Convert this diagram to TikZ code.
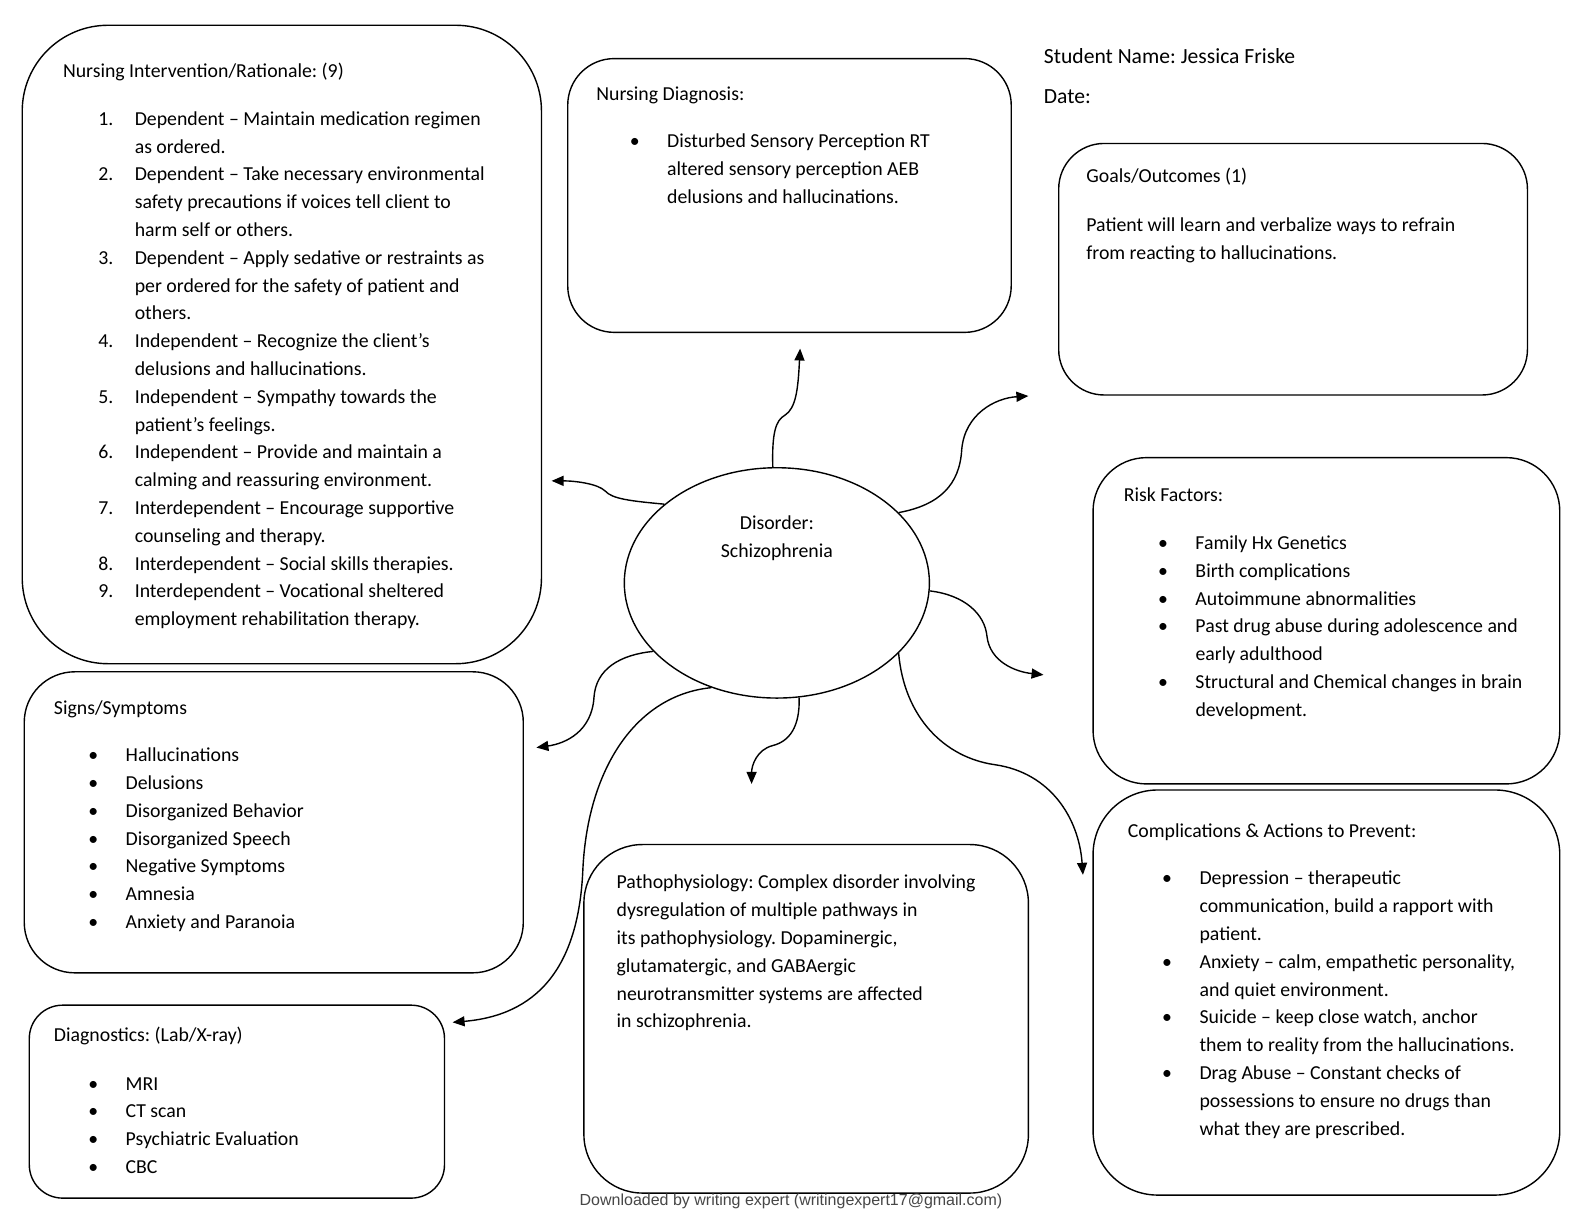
\documentclass[tikz,border=0pt]{standalone}
\usepackage{fontspec}
\setmainfont{Carlito}
\newfontfamily\footfont{Liberation Sans}
\usetikzlibrary{shapes.geometric,arrows.meta}
\newcommand{\myu}{0.5051pt}
\frenchspacing
\begin{document}
\frenchspacing
\begin{tikzpicture}[x=0.5051pt,y=-0.5051pt,
  rbox/.style={draw, line width=0.7pt, inner sep=0pt},
  txt/.style={inner sep=0pt, anchor=base west, font=\fontsize{9.9}{13.9}\selectfont\frenchspacing},
  conn/.style={line width=0.7pt, -{Triangle[length=6pt,width=5pt]}},
]
\useasboundingbox[fill=white] (0,0) rectangle (1568,1212);

% boxes
\node[rbox, minimum width=514*\myu, minimum height=632*\myu, rounded corners=85*\myu] (interv) at (279,341) {};
\node[rbox, minimum width=439*\myu, minimum height=271*\myu, rounded corners=46*\myu] (diagn) at (781.5,193.5) {};
\node[rbox, minimum width=464*\myu, minimum height=249*\myu, rounded corners=45*\myu] (goals) at (1280,266.5) {};
\node[rbox, minimum width=462*\myu, minimum height=323*\myu, rounded corners=53*\myu] (risk) at (1313,614.5) {};
\node[rbox, minimum width=462*\myu, minimum height=401*\myu, rounded corners=64*\myu] (compl) at (1313,982.5) {};
\node[rbox, minimum width=440*\myu, minimum height=345*\myu, rounded corners=58*\myu] (patho) at (798,1008.5) {};
\node[rbox, minimum width=494*\myu, minimum height=298*\myu, rounded corners=50*\myu] (signs) at (271,814) {};
\node[rbox, minimum width=411*\myu, minimum height=191*\myu, rounded corners=33*\myu] (diagx) at (234.5,1090.5) {};
\node[draw, line width=0.7pt, ellipse, inner sep=0pt, minimum width=302*\myu, minimum height=228*\myu] (dis) at (769,577) {};

% texts
\node[txt] (intervT) at (62,77) {Nursing Intervention/Rationale: (9)};
\node[txt] (intervL) at (97,124) {\begin{tabular}[t]{@{}p{18.2pt}@{}l@{}}
1. & Dependent – Maintain medication regimen\\
 & as ordered.\\
2. & Dependent – Take necessary environmental\\
 & safety precautions if voices tell client to\\
 & harm self or others.\\
3. & Dependent – Apply sedative or restraints as\\
 & per ordered for the safety of patient and\\
 & others.\\
4. & Independent – Recognize the client’s\\
 & delusions and hallucinations.\\
5. & Independent – Sympathy towards the\\
 & patient’s feelings.\\
6. & Independent – Provide and maintain a\\
 & calming and reassuring environment.\\
7. & Interdependent – Encourage supportive\\
 & counseling and therapy.\\
8. & Interdependent – Social skills therapies.\\
9. & Interdependent – Vocational sheltered\\
 & employment rehabilitation therapy.
\end{tabular}};

\node[txt] (diagnT) at (590,99) {Nursing Diagnosis:};
\node[txt] (diagnL) at (623,146) {\begin{tabular}[t]{@{}p{18.7pt}@{}l@{}}
• & Disturbed Sensory Perception RT\\
 & altered sensory perception AEB\\
 & delusions and hallucinations.
\end{tabular}};

\node[txt, font=\fontsize{10.8}{13.9}\selectfont\frenchspacing] (student) at (1033,63) {Student Name: Jessica Friske};
\node[txt, font=\fontsize{10.8}{13.9}\selectfont\frenchspacing] (date) at (1033,102) {Date:};

\node[txt] (goalsT) at (1075,181) {Goals/Outcomes (1)};
\node[txt] (goalsB) at (1075,229) {\begin{tabular}[t]{@{}l@{}}
Patient will learn and verbalize ways to refrain\\
from reacting to hallucinations.
\end{tabular}};

\node[txt] (riskT) at (1112,496) {Risk Factors:};
\node[txt] (riskL) at (1146,544) {\begin{tabular}[t]{@{}p{18.7pt}@{}l@{}}
• & Family Hx Genetics\\
• & Birth complications\\
• & Autoimmune abnormalities\\
• & Past drug abuse during adolescence and\\
 & early adulthood\\
• & Structural and Chemical changes in brain\\
 & development.
\end{tabular}};

\node[txt] (complT) at (1116,829) {Complications \& Actions to Prevent:};
\node[txt] (complL) at (1150,876) {\begin{tabular}[t]{@{}p{18.7pt}@{}l@{}}
• & Depression – therapeutic\\
 & communication, build a rapport with\\
 & patient.\\
• & Anxiety – calm, empathetic personality,\\
 & and quiet environment.\\
• & Suicide – keep close watch, anchor\\
 & them to reality from the hallucinations.\\
• & Drag Abuse – Constant checks of\\
 & possessions to ensure no drugs than\\
 & what they are prescribed.
\end{tabular}};

\node[txt] (pathoB) at (610,880) {\begin{tabular}[t]{@{}l@{}}
Pathophysiology: Complex disorder involving\\
dysregulation of multiple pathways in\\
its pathophysiology. Dopaminergic,\\
glutamatergic, and GABAergic\\
neurotransmitter systems are affected\\
in schizophrenia.
\end{tabular}};

\node[txt] (signsT) at (53,707) {Signs/Symptoms};
\node[txt] (signsL) at (87,754) {\begin{tabular}[t]{@{}p{18.7pt}@{}l@{}}
• & Hallucinations\\
• & Delusions\\
• & Disorganized Behavior\\
• & Disorganized Speech\\
• & Negative Symptoms\\
• & Amnesia\\
• & Anxiety and Paranoia
\end{tabular}};

\node[txt] (diagxT) at (53,1031) {Diagnostics: (Lab/X-ray)};
\node[txt] (diagxL) at (87,1079) {\begin{tabular}[t]{@{}p{18.7pt}@{}l@{}}
• & MRI\\
• & CT scan\\
• & Psychiatric Evaluation\\
• & CBC
\end{tabular}};

\node[txt, anchor=base] (disT) at (769,524) {\begin{tabular}[t]{@{}c@{}}
Disorder:\\
Schizophrenia
\end{tabular}};

\node[inner sep=0pt, anchor=base, font=\footfont\fontsize{8}{10}\selectfont, text=black!72] (foot) at (783,1193) {Downloaded by writing expert (writingexpert17@gmail.com)};

% arrow tips
\coordinate (tDiagn) at (792,345);
\coordinate (tGoals) at (1018,392);
\coordinate (tInterv) at (546,476);
\coordinate (tRisk) at (1033,668);
\coordinate (tCompl) at (1072,866);
\coordinate (tPatho) at (744,776);
\coordinate (tSigns) at (531,740);
\coordinate (tDiagx) at (448,1012);

% connectors
\draw[conn] (dis.92) .. controls (764,428) and (768,416) .. (777,411) .. controls (788,404) and (790,385) .. (tDiagn);
\draw[conn] (dis.30) .. controls (930,500) and (950,480) .. (952,445) .. controls (955,410) and (985,394) .. (tGoals);
\draw[conn] (dis.145) .. controls (625,496) and (606,494) .. (599,486) .. controls (592,479) and (570,476) .. (tInterv);
\draw[conn] (dis.-3.4) .. controls (955,589) and (975,608) .. (977,630) .. controls (980,655) and (1005,665) .. (tRisk);
\draw[conn] (dis.-30.7) .. controls (895,710) and (935,750) .. (985,757) .. controls (1040,765) and (1068,810) .. (tCompl);
\draw[conn] (dis.-79.5) .. controls (792,720) and (781,734) .. (765,738) .. controls (749,742) and (744,758) .. (tPatho);
\draw[conn] (dis.209.1) .. controls (614,648) and (590,662) .. (588,690) .. controls (586,724) and (560,736) .. (tSigns);
\draw[conn] (dis.238) .. controls (630,688) and (582,760) .. (577,860) .. controls (573,960) and (530,1005) .. (tDiagx);
\end{tikzpicture}
\end{document}
